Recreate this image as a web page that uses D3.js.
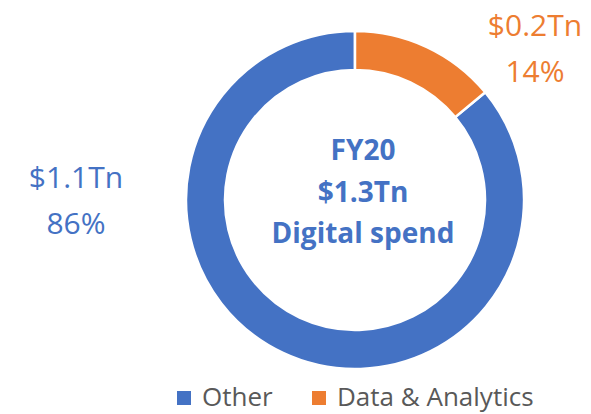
<!DOCTYPE html>
<html>
<head>
<meta charset="utf-8">
<script src="https://d3js.org/d3.v7.min.js"></script>
<style>
  body { margin: 0; background: #fff; }
  svg { display: block; font-family: "Open Sans", sans-serif; }
</style>
</head>
<body>
<div id="chart"></div>
<script>
    // Chart data
    const categories = ["Other", "Data & Analytics"];
    const shares = [0.86, 0.14];
    const amounts = ["$1.1Tn", "$0.2Tn"];
    const shareLabels = ["86%", "14%"];
    const colors = ["#4472C4", "#ED7D31"];
    const centerLines = ["FY20", "$1.3Tn", "Digital spend"];

    const width = 591, height = 414;
    const cx = 355, cy = 200;
    const outerR = 169, innerR = 130;

    const svg = d3.select("#chart").append("svg")
        .attr("width", width)
        .attr("height", height);

    // Start "Other" right after the D&A wedge so D&A sits at 12 o'clock
    const start = shares[1] * 2 * Math.PI;
    const pie = d3.pie().sort(null).value(d => d)
        .startAngle(start)
        .endAngle(start + 2 * Math.PI);

    const arc = d3.arc().innerRadius(innerR).outerRadius(outerR);

    const g = svg.append("g").attr("transform", `translate(${cx},${cy})`);

    g.selectAll("path")
        .data(pie(shares))
        .join("path")
        .attr("d", arc)
        .attr("fill", (d, i) => colors[i])
        .attr("stroke", "#fff")
        .attr("stroke-width", 2.5);

    // Center text
    svg.append("g")
        .selectAll("text")
        .data(centerLines)
        .join("text")
        .attr("x", 363)
        .attr("y", (d, i) => 160 + i * 41.5)
        .attr("text-anchor", "middle")
        .attr("fill", "#4472C4")
        .style("font-size", "28px")
        .style("font-weight", "bold")
        .text(d => d);

    // Data labels
    const labelPos = [{ x: 76, y: 188 }, { x: 535, y: 36 }];
    categories.forEach((c, i) => {
        const t = svg.append("text")
            .attr("text-anchor", "middle")
            .attr("fill", colors[i])
            .style("font-size", "30px");
        t.append("tspan").attr("x", labelPos[i].x).attr("y", labelPos[i].y).text(amounts[i]);
        t.append("tspan").attr("x", labelPos[i].x).attr("y", labelPos[i].y + 45.5).text(shareLabels[i]);
    });

    // Legend
    const legendX = [177, 312];
    const legend = svg.append("g")
        .selectAll("g")
        .data(categories)
        .join("g")
        .attr("transform", (d, i) => `translate(${legendX[i]},391)`);

    legend.append("rect")
        .attr("width", 14)
        .attr("height", 14)
        .attr("fill", (d, i) => colors[i]);

    legend.append("text")
        .attr("x", 25)
        .attr("y", 15)
        .attr("fill", "#595959")
        .style("font-size", "26px")
        .text(d => d);
</script>
</body>
</html>
